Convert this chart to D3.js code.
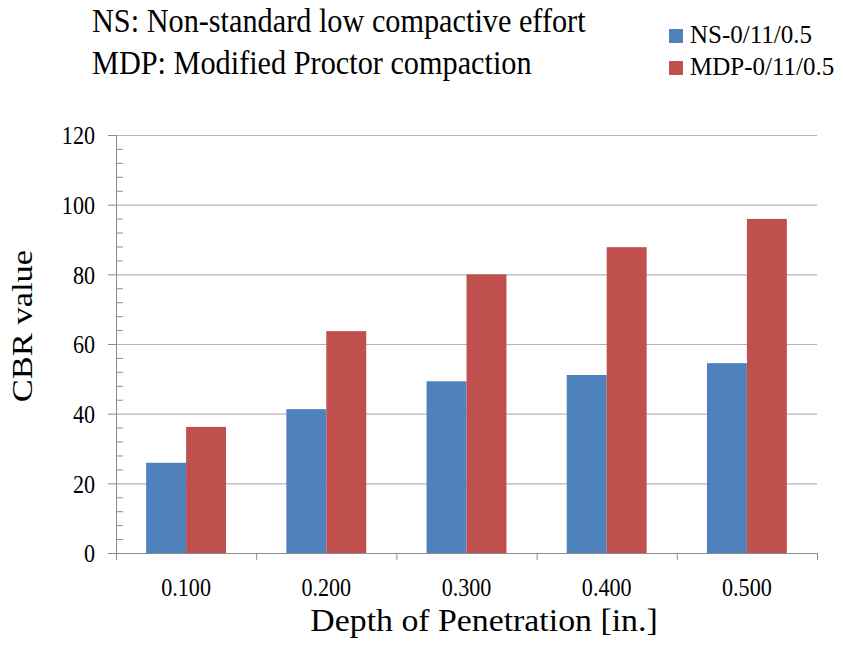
<!DOCTYPE html>
<html>
<head>
<meta charset="utf-8">
<script src="https://cdn.jsdelivr.net/npm/d3@7"></script>
<style>
  body { margin: 0; background: #fff; }
  svg text { font-family: "Liberation Serif", "Times New Roman", serif !important; fill: #000; }
</style>
</head>
<body>
<svg id="chart" width="843" height="645"></svg>
<script>
// data
var depths = ["0.100", "0.200", "0.300", "0.400", "0.500"];
var keys = ["NS-0/11/0.5", "MDP-0/11/0.5"];
var nsValues = [25.9, 41.3, 49.3, 51.1, 54.5];
var mdpValues = [36.2, 63.7, 80.0, 87.8, 95.9];
var yTicks = [0, 20, 40, 60, 80, 100, 120];
var notes = ["NS: Non-standard low compactive effort", "MDP: Modified Proctor compaction"];

var data = depths.map((d, i) => ({depth: d, "NS-0/11/0.5": nsValues[i], "MDP-0/11/0.5": mdpValues[i]}));

var svg = d3.select("#chart"),
    margin = {top: 135, left: 116, bottom: 92, right: 26},
    width = +svg.attr("width"),
    height = +svg.attr("height");

var x = d3.scaleBand()
    .domain(depths)
    .range([margin.left, width - margin.right])
    .padding(0);

var x1 = d3.scaleBand()
    .domain(keys)
    .range([0, x.bandwidth()])
    .paddingInner(0)
    .paddingOuter(0.755);

var y = d3.scaleLinear()
    .domain([0, 120])
    .range([height - margin.bottom, margin.top]);

var z = d3.scaleOrdinal()
    .domain(keys)
    .range(["#4f81bd", "#c0504d"]);

// squeeze text horizontally like the source picture
function squeeze(sel, k) {
  sel.each(function() {
    var w = this.getComputedTextLength();
    d3.select(this).attr("textLength", w * k).attr("lengthAdjust", "spacingAndGlyphs");
  });
}

// gridlines
svg.append("g")
  .selectAll("line")
  .data(yTicks.filter(t => t > 0))
  .enter().append("line")
    .attr("x1", margin.left)
    .attr("x2", width - margin.right)
    .attr("y1", d => y(d) + 0.5)
    .attr("y2", d => y(d) + 0.5)
    .attr("stroke", "#b4b4b4")
    .attr("stroke-width", 1.2);

// bars
svg.append("g")
  .selectAll("g")
  .data(data)
  .enter().append("g")
    .attr("transform", d => `translate(${x(d.depth)},0)`)
  .selectAll("rect")
  .data(d => keys.map(k => ({key: k, value: d[k]})))
  .enter().append("rect")
    .attr("x", d => x1(d.key))
    .attr("width", x1.bandwidth())
    .attr("y", d => y(d.value))
    .attr("height", d => y(0) - y(d.value))
    .attr("fill", d => z(d.key));

// y axis
var yAxis = svg.append("g")
    .attr("transform", `translate(${margin.left},0)`)
    .call(d3.axisLeft(y).tickValues(yTicks).tickSize(8).tickPadding(13));
yAxis.attr("font-family", null);
yAxis.select(".domain").remove();
yAxis.selectAll(".tick line").attr("stroke", "#8c8c8c");
yAxis.selectAll("text").style("font-size", "26px").attr("dy", "0.34em").call(squeeze, 0.85);

var minor = d3.range(0, 121, 4).filter(v => v % 20 != 0);
svg.append("g")
    .attr("transform", `translate(${margin.left},0)`)
    .call(d3.axisLeft(y).tickValues(minor).tickSize(-7).tickFormat(""))
    .call(g => g.select(".domain").remove())
    .selectAll(".tick line").attr("stroke", "#8c8c8c");

svg.append("line")
    .attr("x1", margin.left + 0.5).attr("x2", margin.left + 0.5)
    .attr("y1", y(120)).attr("y2", y(0))
    .attr("stroke", "#8c8c8c");

// x axis
var xg = svg.append("g").attr("transform", `translate(0,${y(0)})`);
xg.append("line")
    .attr("x1", margin.left).attr("x2", width - margin.right)
    .attr("y1", 0.5).attr("y2", 0.5)
    .attr("stroke", "#8c8c8c");
xg.selectAll(".bound")
  .data(depths.map(d => x(d)).concat([x.range()[1]]))
  .enter().append("line")
    .attr("class", "bound")
    .attr("x1", d => d + 0.5).attr("x2", d => d + 0.5)
    .attr("y1", 0).attr("y2", 7)
    .attr("stroke", "#8c8c8c");
xg.selectAll(".lbl")
  .data(depths)
  .enter().append("text")
    .attr("class", "lbl")
    .attr("x", d => x(d) + x.bandwidth() / 2)
    .attr("y", 43)
    .attr("text-anchor", "middle")
    .style("font-size", "26px")
    .text(d => d)
    .call(squeeze, 0.85);

// axis titles
svg.append("text")
    .attr("x", 484)
    .attr("y", 631)
    .attr("text-anchor", "middle")
    .style("font-size", "32.5px")
    .text("Depth of Penetration [in.]")
    .call(squeeze, 1.04);

svg.append("text")
    .attr("transform", "translate(32,326) rotate(-90) scale(1,0.85)")
    .attr("text-anchor", "middle")
    .style("font-size", "34.5px")
    .text("CBR value");

// notes top left
svg.selectAll(".note")
  .data(notes)
  .enter().append("text")
    .attr("class", "note")
    .attr("x", 92)
    .attr("y", (d, i) => 32 + i * 42)
    .style("font-size", "33px")
    .text(d => d)
    .call(squeeze, 0.917);

// legend
var legend = svg.append("g")
  .selectAll("g")
  .data(keys)
  .enter().append("g")
    .attr("transform", (d, i) => `translate(669,${29 + i * 32})`);
legend.append("rect")
    .attr("width", 14).attr("height", 14)
    .attr("fill", d => z(d));
legend.append("text")
    .attr("x", 21)
    .attr("y", 14)
    .style("font-size", "25px")
    .text(d => d);
</script>
</body>
</html>
